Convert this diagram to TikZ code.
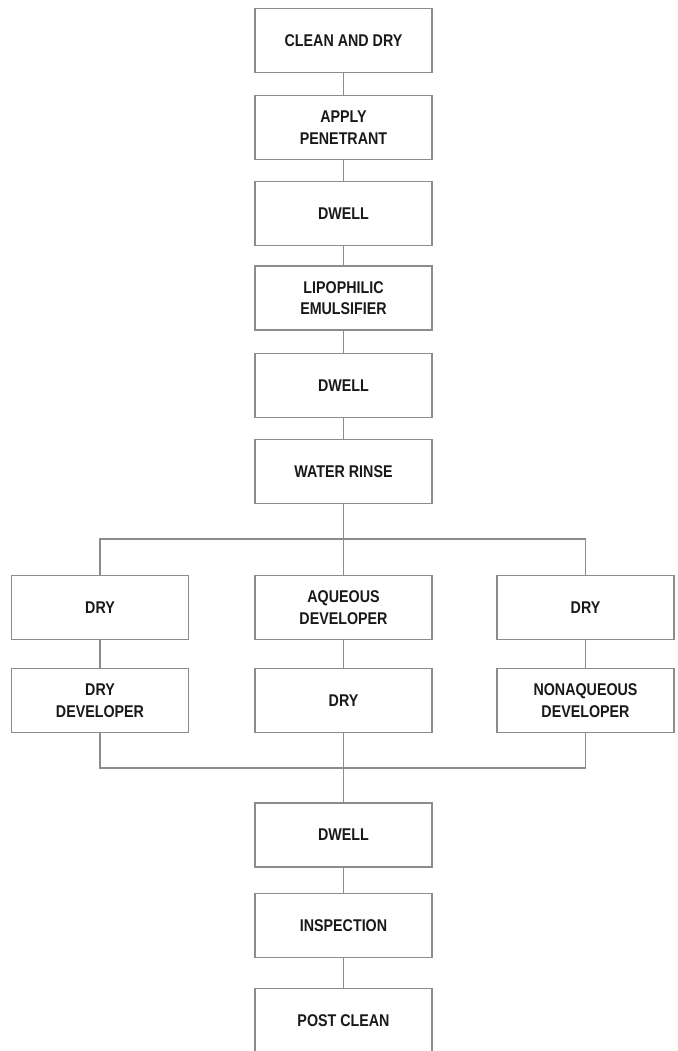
\documentclass[tikz,border=0pt]{standalone}
\usepackage{fontspec}
\setmainfont{Liberation Sans}[FakeStretch=0.84]

\begin{document}
\begin{tikzpicture}[
  x=1pt,
  y=-1pt,
  line width=1.2pt,
  stepbox/.style={
    draw=black!45,
    minimum width=177pt,
    minimum height=64pt,
    inner sep=0pt,
    align=center,
    text=black!90,
    font=\bfseries\fontsize{17}{21.7}\selectfont,
  },
  link/.style={draw=black!45},
]
  \useasboundingbox (0,0) rectangle (677,1051);
  % main column
  \foreach \name/\y/\txt in {
    clean/40.5/{CLEAN AND DRY},
    apply/127.5/{APPLY\\PENETRANT},
    dwellA/213.5/{DWELL},
    lipo/298/{LIPOPHILIC\\EMULSIFIER},
    dwellB/385.5/{DWELL},
    rinse/471.5/{WATER RINSE},
    dwellC/835/{DWELL},
    insp/925.5/{INSPECTION},
    post/1020.5/{POST CLEAN}%
  } {
    \node[stepbox] (\name) at (343.5,\y) {\txt};
  }
  % three branches
  \foreach \name/\x/\y/\txt in {
    dryL/100/607.5/{DRY},
    aqdev/343.5/607.5/{AQUEOUS\\DEVELOPER},
    dryR/585.5/607.5/{DRY},
    drydev/100/700.5/{DRY\\DEVELOPER},
    dryM/343.5/700.5/{DRY},
    nadev/585.5/700.5/{NONAQUEOUS\\DEVELOPER}%
  } {
    \node[stepbox] (\name) at (\x,\y) {\txt};
  }
  \coordinate (split) at (343.5,539);
  \coordinate (join) at (343.5,768);

  \foreach \a/\b in {clean/apply, apply/dwellA, dwellA/lipo, lipo/dwellB,
    dwellB/rinse, dryL/drydev, aqdev/dryM, dryR/nadev, dwellC/insp, insp/post}
    \draw[link] (\a) -- (\b);
  \draw[link] (rinse) -- (split) -- (aqdev);
  \draw[link] (dryL.north) |- (split) -| (dryR.north);
  \draw[link] (drydev.south) |- (join) -| (nadev.south);
  \draw[link] (dryM) -- (join) -- (dwellC);
\end{tikzpicture}
\end{document}
